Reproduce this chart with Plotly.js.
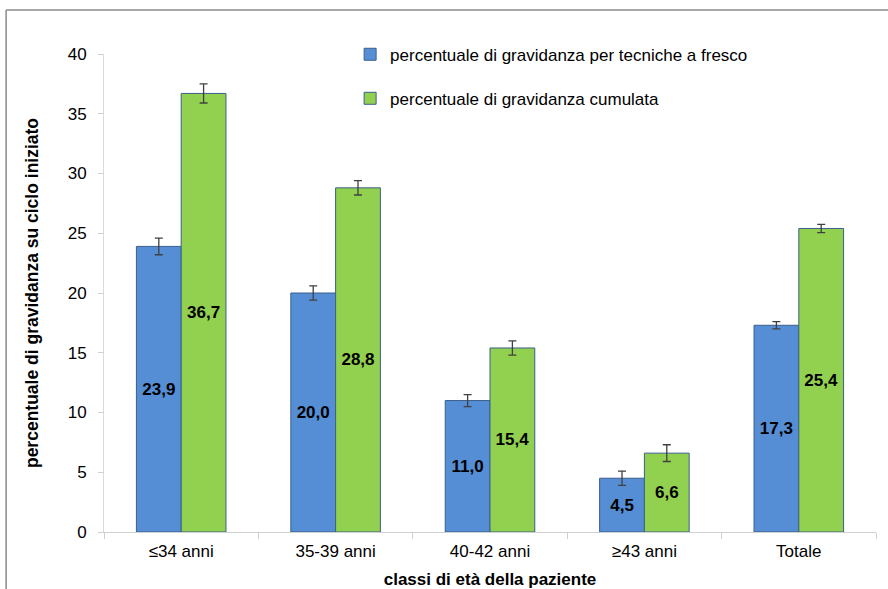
<!DOCTYPE html>
<html>
<head>
<meta charset="utf-8">
<script src="https://cdn.plot.ly/plotly-3.0.1.min.js"></script>
<style>html,body{margin:0;padding:0;background:#fff;}#chart{width:888px;height:589px;}</style>
</head>
<body>
<div id="chart"></div>
<script>
const categories = ["≤34 anni", "35-39 anni", "40-42 anni", "≥43 anni", "Totale"];
const freschiValues = [23.9, 20.0, 11.0, 4.5, 17.3];
const freschiErrors = [0.7, 0.6, 0.5, 0.6, 0.3];
const cumulataValues = [36.7, 28.8, 15.4, 6.6, 25.4];
const cumulataErrors = [0.8, 0.6, 0.6, 0.7, 0.35];
const seriesNames = ["percentuale di gravidanza per tecniche a fresco", "percentuale di gravidanza cumulata"];
const yTicks = [0, 5, 10, 15, 20, 25, 30, 35, 40];

const FONT = "Liberation Sans, Arial, sans-serif";
const outline = {color: "#3b5f8c", width: 1};
const errStyle = {type: "data", visible: true, color: "#404040", thickness: 1.3, width: 4};

const traces = [
  {
    type: "bar", name: seriesNames[0], x: categories, y: freschiValues,
    marker: {color: "#558ed5", line: outline},
    error_y: Object.assign({array: freschiErrors}, errStyle),
    texttemplate: "%{y:.1f}", textposition: "inside", insidetextanchor: "middle",
    constraintext: "none",
    textfont: {family: FONT, size: 17, color: "#000", weight: "bold"},
    hoverinfo: "skip", legend: "legend"
  },
  {
    type: "bar", name: seriesNames[1], x: categories, y: cumulataValues,
    marker: {color: "#92d050", line: outline},
    error_y: Object.assign({array: cumulataErrors}, errStyle),
    texttemplate: "%{y:.1f}", textposition: "inside", insidetextanchor: "middle",
    constraintext: "none",
    textfont: {family: FONT, size: 17, color: "#000", weight: "bold"},
    hoverinfo: "skip", legend: "legend2"
  }
];

const legendBase = {
  xanchor: "left", yanchor: "middle", x: 0.3188,
  bgcolor: "rgba(0,0,0,0)", borderwidth: 0,
  font: {family: FONT, size: 17, color: "#000"}
};

const layout = {
  width: 888, height: 589,
  margin: {l: 103.5, r: 11.5, t: 54.3, b: 57.3, pad: 0},
  paper_bgcolor: "#fff", plot_bgcolor: "#fff",
  font: {family: FONT, size: 17, color: "#000"},
  separators: ",.",
  barmode: "group", bargap: 0.42, bargroupgap: 0,
  showlegend: true,
  legend: Object.assign({y: 0.9985}, legendBase),
  legend2: Object.assign({y: 0.9064}, legendBase),
  xaxis: {
    type: "category",
    showline: true, linecolor: "#d0d0d0", linewidth: 1,
    ticks: "outside", tickson: "boundaries", ticklen: 6, tickcolor: "#d0d0d0",
    ticklabelstandoff: 4,
    showgrid: false, zeroline: false,
    tickfont: {family: FONT, size: 17, color: "#000"},
    title: {text: "classi di età della paziente", standoff: 14,
            font: {family: FONT, size: 17, color: "#000", weight: "bold"}}
  },
  yaxis: {
    range: [0, 40], tickvals: yTicks, ticktext: yTicks.map(String),
    showline: true, linecolor: "#d9d9d9", linewidth: 1,
    ticks: "outside", ticklen: 5, tickcolor: "#d0d0d0",
    ticklabelstandoff: 8,
    showgrid: false, zeroline: false,
    tickfont: {family: FONT, size: 17, color: "#000"},
    title: {text: "percentuale di gravidanza su ciclo iniziato", standoff: 24,
            font: {family: FONT, size: 17.5, color: "#000", weight: "bold"}}
  },
  shapes: [
    {type: "line", xref: "paper", yref: "paper", x0: -0.1268, x1: 1.2, y0: 1.0918, y1: 1.0918,
     line: {color: "#8a8a8a", width: 1.5}},
    {type: "line", xref: "paper", yref: "paper", x0: -0.1268, x1: -0.1268, y0: 1.0918, y1: -0.2,
     line: {color: "#8a8a8a", width: 1.5}}
  ]
};

Plotly.newPlot("chart", traces, layout, {staticPlot: true, displayModeBar: false});
</script>
</body>
</html>
